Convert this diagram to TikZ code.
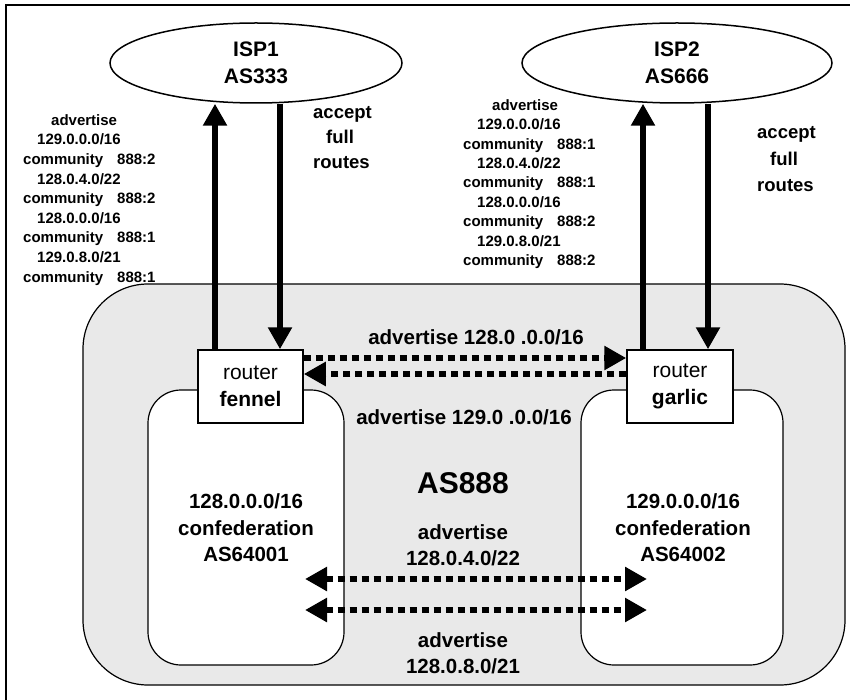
\documentclass[tikz,border=0pt]{standalone}
\usepackage{fontspec}
\setmainfont{Liberation Sans}
\usetikzlibrary{arrows.meta,shapes.geometric}

\tikzset{
  bigtip/.tip={Triangle[length=22pt,width=23pt]},
  frame/.style={line width=1.5pt},
  asregion/.style={draw, line width=1.2pt, fill=gray!17, rounded corners=65pt},
  subregion/.style={draw, line width=1.2pt, fill=white, rounded corners=33pt},
  isp/.style={draw, ellipse, line width=1.5pt, fill=white, inner sep=0pt, align=center,
    font=\fontsize{21}{27}\selectfont\bfseries},
  router/.style={draw, rectangle, line width=1.5pt, fill=white, inner sep=0pt, align=center,
    minimum height=73pt, font=\fontsize{21}{27}\selectfont},
  feed/.style={line width=6pt, -bigtip},
  peer/.style={line width=6pt, dash pattern=on 7pt off 5pt},
  lbl/.style={inner sep=0pt, align=center, font=\fontsize{20.5}{26}\selectfont\bfseries},
  acc/.style={inner sep=0pt, anchor=base west, font=\fontsize{18.5}{24}\selectfont\bfseries},
  comm/.style={inner sep=0pt, anchor=base west, font=\fontsize{15}{18}\selectfont\bfseries},
}

\begin{document}
\begin{tikzpicture}[x=1pt,y=-1pt]
\useasboundingbox (0,0) rectangle (850,700);

% page frame
\draw[frame] (6,706) -- (6,5) -- (856,5);

% AS888 region and its two confederation members
\draw[asregion] (83,284) rectangle (845,685);
\draw[subregion] (148,390) rectangle (344,665);
\draw[subregion] (581,390) rectangle (783,665);

% upstream providers
\node[isp, minimum width=292pt, minimum height=80pt] (isp1) at (256,63) {ISP1\\AS333};
\node[isp, minimum width=310pt, minimum height=80pt] (isp2) at (677,63) {ISP2\\AS666};

% border routers
\node[router, minimum width=105pt] (fennel) at (250.5,386.5) {router\\\textbf{fennel}};
\node[router, minimum width=106pt] (garlic) at (680,386.5) {router\\\textbf{garlic}};

% columns of the provider links
\coordinate (x1) at (215,0);
\coordinate (x2) at (280,0);
\coordinate (x3) at (643,0);
\coordinate (x4) at (708,0);

\draw[feed] (fennel.north -| x1) -- (x1 |- isp1.south);
\draw[feed] (x2 |- isp1.south) -- (fennel.north -| x2);
\draw[feed] (garlic.north -| x3) -- (x3 |- isp2.south);
\draw[feed] (x4 |- isp2.south) -- (garlic.north -| x4);

% iBGP between the routers
\coordinate (rowA) at (0,358);
\coordinate (rowB) at (0,374);
\draw[peer, -bigtip] (fennel.east |- rowA) -- (garlic.west |- rowA);
\draw[peer, -bigtip] (garlic.west |- rowB) -- (fennel.east |- rowB);

% exchanges between the confederation members
\coordinate (pa1) at (305,579);
\coordinate (pa2) at (647,579);
\coordinate (pb1) at (305,610);
\coordinate (pb2) at (647,610);
\draw[peer, bigtip-bigtip] (pa1) -- (pa2);
\draw[peer, bigtip-bigtip] (pb1) -- (pb2);

% labels in the AS888 region
\node[lbl] (l128) at (476,337) {advertise 128.0 .0.0/16};
\node[lbl] (l129) at (464,417) {advertise 129.0 .0.0/16};
\node[lbl, font=\fontsize{30}{34}\selectfont\bfseries] (as888) at (463,483) {AS888};
\node[lbl] (l422) at (463,545) {advertise\\128.0.4.0/22};
\node[lbl] (l821) at (463,653) {advertise\\128.0.8.0/21};
\node[lbl, font=\fontsize{20.5}{26.5}\selectfont\bfseries] (c1) at (246,528) {128.0.0.0/16\\confederation\\AS64001};
\node[lbl, font=\fontsize{20.5}{26.5}\selectfont\bfseries] (c2) at (683,528) {129.0.0.0/16\\confederation\\AS64002};

% accepted routes
\node[acc] (acc1a) at (313,119) {accept};
\node[acc] (acc1b) at (326,144) {full};
\node[acc] (acc1c) at (313,169) {routes};
\node[acc] (acc2a) at (757,139) {accept};
\node[acc] (acc2b) at (770,165.5) {full};
\node[acc] (acc2c) at (757,192) {routes};

% advertisements towards ISP1
\node[comm] (a1) at (51,125.4) {advertise};
\node[comm] (a2) at (37,145) {129.0.0.0/16};
\node[comm] (a3) at (23,164.6) {community\hspace{14pt}888:2};
\node[comm] (a4) at (37,184.2) {128.0.4.0/22};
\node[comm] (a5) at (23,203.8) {community\hspace{14pt}888:2};
\node[comm] (a6) at (37,223.4) {128.0.0.0/16};
\node[comm] (a7) at (23,243) {community\hspace{14pt}888:1};
\node[comm] (a8) at (37,262.6) {129.0.8.0/21};
\node[comm] (a9) at (23,282.2) {community\hspace{14pt}888:1};

% advertisements towards ISP2
\node[comm] (b1) at (492,110.4) {advertise};
\node[comm] (b2) at (477,129.8) {129.0.0.0/16};
\node[comm] (b3) at (463,149.2) {community\hspace{14pt}888:1};
\node[comm] (b4) at (477,168.6) {128.0.4.0/22};
\node[comm] (b5) at (463,188) {community\hspace{14pt}888:1};
\node[comm] (b6) at (477,207.4) {128.0.0.0/16};
\node[comm] (b7) at (463,226.8) {community\hspace{14pt}888:2};
\node[comm] (b8) at (477,246.2) {129.0.8.0/21};
\node[comm] (b9) at (463,265.6) {community\hspace{14pt}888:2};
\end{tikzpicture}
\end{document}
